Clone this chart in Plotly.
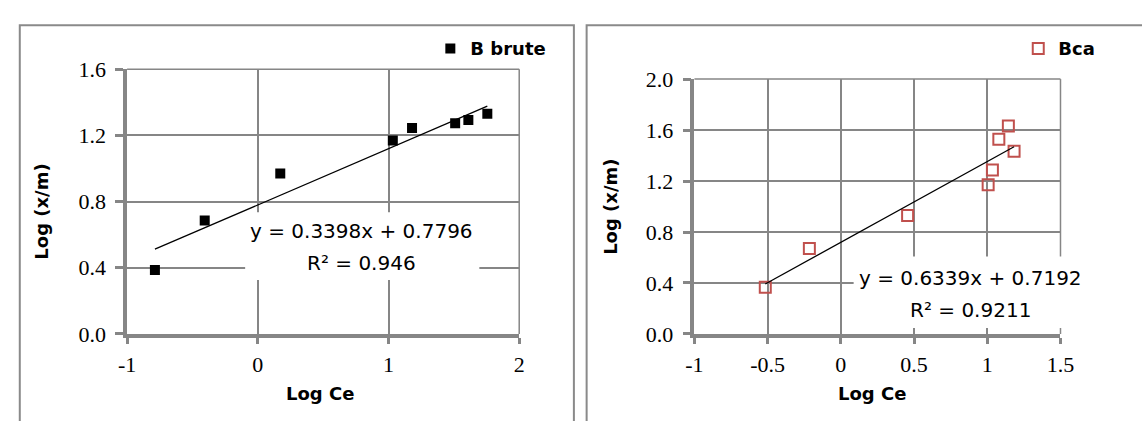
import plotly.graph_objects as go

# Freundlich isotherm data (log-log)
logce_brute = [-0.787, -0.406, 0.172, 1.033, 1.180, 1.510, 1.611, 1.756]
logxm_brute = [0.387, 0.685, 0.970, 1.169, 1.245, 1.274, 1.293, 1.331]
fit_brute = (0.3398, 0.7796, 0.946)  # slope, intercept, R²

logce_bca = [-0.516, -0.215, 0.456, 1.006, 1.035, 1.079, 1.144, 1.183]
logxm_bca = [0.367, 0.670, 0.929, 1.171, 1.286, 1.528, 1.631, 1.434]
fit_bca = (0.6339, 0.7192, 0.9211)

# tick labels
x1_ticks = [-1, 0, 1, 2]
x1_text = ["-1", "0", "1", "2"]
y1_ticks = [0.0, 0.4, 0.8, 1.2, 1.6]
y1_text = ["0.0", "0.4", "0.8", "1.2", "1.6"]
x2_ticks = [-1, -0.5, 0, 0.5, 1, 1.5]
x2_text = ["-1", "-0.5", "0", "0.5", "1", "1.5"]
y2_ticks = [0.0, 0.4, 0.8, 1.2, 1.6, 2.0]
y2_text = ["0.0", "0.4", "0.8", "1.2", "1.6", "2.0"]

W, H = 1142, 421
SANS = "DejaVu Sans"
SERIF = "Liberation Serif"
GRID = "#868686"
RED = "#C0504D"

# plot-area edges in pixels
L1, R1, T1, B1 = 120.5, 520.7, 60.8, 342.3
L2, R2, T2, B2 = 699.5, 1073.1, 71.3, 342.3


def px(x):
    return x / W


def py(y):
    return 1 - y / H


def fit_line(xs, slope, intercept):
    lo, hi = min(xs), max(xs)
    return [lo, hi], [slope * lo + intercept, slope * hi + intercept]


fig = go.Figure()

fig.add_trace(go.Scatter(
    x=logce_brute, y=logxm_brute, mode="markers", name="B brute",
    marker=dict(symbol="square", size=10, color="black"),
    xaxis="x", yaxis="y", legend="legend",
))
lx, ly = fit_line(logce_brute, fit_brute[0], fit_brute[1])
fig.add_trace(go.Scatter(
    x=lx, y=ly, mode="lines", line=dict(color="black", width=1.3),
    showlegend=False, xaxis="x", yaxis="y", hoverinfo="skip",
))

fig.add_trace(go.Scatter(
    x=logce_bca, y=logxm_bca, mode="markers", name="Bca",
    marker=dict(symbol="square-open", size=11, color=RED, line=dict(width=2, color=RED)),
    xaxis="x2", yaxis="y2", legend="legend2",
))
lx2, ly2 = fit_line(logce_bca, fit_bca[0], fit_bca[1])
fig.add_trace(go.Scatter(
    x=lx2, y=ly2, mode="lines", line=dict(color="black", width=1.3),
    showlegend=False, xaxis="x2", yaxis="y2", hoverinfo="skip",
))

axis_common = dict(
    showgrid=True, gridcolor=GRID, gridwidth=1.5,
    showline=True, linecolor=GRID, linewidth=3.5,
    ticks="outside", tickwidth=3, tickcolor=GRID,
    zeroline=False,
    tickfont=dict(family=SERIF, size=22, color="black"),
)

fig.update_layout(
    width=W, height=H,
    margin=dict(l=0, r=0, t=0, b=0),
    paper_bgcolor="white", plot_bgcolor="white",
    xaxis=dict(axis_common, domain=[px(L1), px(R1)], range=[-1, 2],
               tickvals=x1_ticks, ticktext=x1_text, ticklen=6,
               ticklabelstandoff=2, anchor="y"),
    yaxis=dict(axis_common, domain=[py(B1), py(T1)], range=[0, 1.6],
               tickvals=y1_ticks, ticktext=y1_text, ticklen=8,
               ticklabelstandoff=5, anchor="x"),
    xaxis2=dict(axis_common, domain=[px(L2), px(R2)], range=[-1, 1.5],
                tickvals=x2_ticks, ticktext=x2_text, ticklen=6,
                ticklabelstandoff=2, anchor="y2"),
    yaxis2=dict(axis_common, domain=[py(B2), py(T2)], range=[0, 2],
                tickvals=y2_ticks, ticktext=y2_text, ticklen=8,
                ticklabelstandoff=5, anchor="x2"),
    legend=dict(x=px(430), y=py(39), xanchor="left", yanchor="middle",
                bgcolor="rgba(0,0,0,0)",
                font=dict(family=SANS, size=18, color="black", weight="bold")),
    legend2=dict(x=px(1030), y=py(39), xanchor="left", yanchor="middle",
                 bgcolor="rgba(0,0,0,0)",
                 font=dict(family=SANS, size=18, color="black", weight="bold")),
    showlegend=True,
)

grid_line = dict(color=GRID, width=1.5)
shapes = [
    # chart frames
    dict(type="rect", xref="paper", yref="paper", x0=px(11), x1=px(576.5),
         y0=-0.1, y1=py(14), line=dict(color="#8a8a8a", width=2), layer="below"),
    dict(type="rect", xref="paper", yref="paper", x0=px(589.5), x1=1.1,
         y0=-0.1, y1=py(14), line=dict(color="#8a8a8a", width=2), layer="below"),
    # top and right edges of the plot areas
    dict(type="line", xref="paper", yref="paper", x0=px(L1), x1=px(R1),
         y0=py(T1), y1=py(T1), line=grid_line, layer="below"),
    dict(type="line", xref="paper", yref="paper", x0=px(R1), x1=px(R1),
         y0=py(T1), y1=py(B1), line=grid_line, layer="below"),
    dict(type="line", xref="paper", yref="paper", x0=px(L2), x1=px(R2),
         y0=py(T2), y1=py(T2), line=grid_line, layer="below"),
    dict(type="line", xref="paper", yref="paper", x0=px(R2), x1=px(R2),
         y0=py(T2), y1=py(B2), line=grid_line, layer="below"),
    # white backgrounds behind the regression labels
    dict(type="rect", xref="paper", yref="paper", x0=px(241), x1=px(480),
         y0=py(285), y1=py(213), fillcolor="white", line=dict(width=0), layer="above"),
    dict(type="rect", xref="paper", yref="paper", x0=px(862), x1=px(1100),
         y0=py(336), y1=py(260), fillcolor="white", line=dict(width=0), layer="above"),
]
fig.update_layout(shapes=shapes)

eq_font = dict(family=SANS, size=20, color="black")
title_font = dict(family=SANS, size=18, color="black", weight="bold")


def eq_text(fit):
    return f"y = {fit[0]}x + {fit[1]}", f"R² = {fit[2]}"


annotations = []
for cx, y_eq, y_r2, fit in [(360, 233, 267, fit_brute), (981.5, 283, 316.7, fit_bca)]:
    t1, t2 = eq_text(fit)
    annotations.append(dict(text=t1, x=px(cx), y=py(y_eq), xref="paper", yref="paper",
                            xanchor="center", yanchor="middle", showarrow=False, font=eq_font))
    annotations.append(dict(text=t2, x=px(cx), y=py(y_r2), xref="paper", yref="paper",
                            xanchor="center", yanchor="middle", showarrow=False, font=eq_font))

for cx in (317, 880.5):
    annotations.append(dict(text="Log Ce", x=px(cx), y=py(406), xref="paper", yref="paper",
                            xanchor="center", yanchor="middle", showarrow=False, font=title_font))
for cx, cy in ((33.5, 212.5), (613.8, 206.7)):
    annotations.append(dict(text="Log (x/m)", x=px(cx), y=py(cy), xref="paper", yref="paper",
                            xanchor="center", yanchor="middle", showarrow=False,
                            textangle=-90, font=title_font))
fig.update_layout(annotations=annotations)

fig.write_html("out.html")
